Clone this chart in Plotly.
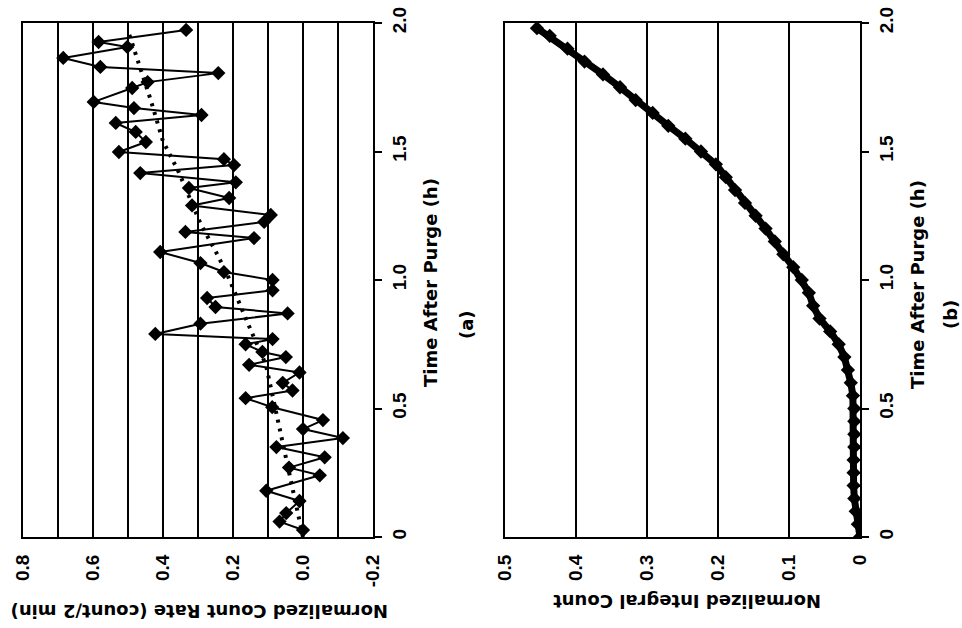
import plotly.graph_objects as go

# ---------------- Panel (a): normalized count rate ----------------
rate_time = [0.027, 0.06, 0.093, 0.14, 0.18, 0.24, 0.27, 0.31, 0.35, 0.385, 0.42, 0.455,
             0.505, 0.54, 0.57, 0.60, 0.64, 0.67, 0.70, 0.72, 0.75, 0.77, 0.79, 0.83,
             0.87, 0.895, 0.93, 0.96, 1.00, 1.031, 1.066, 1.109, 1.163, 1.187, 1.226,
             1.253, 1.29, 1.319, 1.358, 1.38, 1.416, 1.447, 1.47, 1.498, 1.537, 1.576,
             1.611, 1.642, 1.669, 1.693, 1.747, 1.77, 1.805, 1.829, 1.864, 1.907, 1.926,
             1.973]
rate_value = [0.0, 0.067, 0.048, 0.01, 0.105, -0.048, 0.04, -0.062, 0.076, -0.114, 0.0, -0.057,
              0.088, 0.164, 0.03, 0.058, 0.01, 0.154, 0.049, 0.116, 0.164, 0.087, 0.422, 0.293,
              0.044, 0.25, 0.274, 0.087, 0.087, 0.226, 0.293, 0.408, 0.14, 0.336, 0.111,
              0.092, 0.317, 0.211, 0.326, 0.192, 0.465, 0.197, 0.226, 0.526, 0.449, 0.478,
              0.535, 0.29, 0.483, 0.598, 0.488, 0.444, 0.242, 0.579, 0.685, 0.502, 0.584,
              0.334]

trend_time = [0.0, 0.5, 0.67, 0.82, 1.02, 1.10, 1.22, 1.42, 1.54, 1.70, 1.875, 1.97]
trend_value = [0.0, 0.08, 0.106, 0.154, 0.216, 0.245, 0.293, 0.355, 0.40, 0.435, 0.478, 0.50]

rate_ticks = [0.8, 0.7, 0.6, 0.5, 0.4, 0.3, 0.2, 0.1, 0.0, -0.1, -0.2]
rate_ticktext = ["0.8", "", "0.6", "", "0.4", "", "0.2", "", "0.0", "", "-0.2"]

# ---------------- Panel (b): normalized integral count ----------------
integ_time = [0.0, 0.05, 0.10, 0.15, 0.20, 0.25, 0.30, 0.35, 0.40, 0.45, 0.50, 0.55, 0.60,
              0.65, 0.70, 0.75, 0.80, 0.85, 0.90, 0.95, 1.00, 1.05, 1.10, 1.15, 1.20, 1.25,
              1.30, 1.35, 1.40, 1.45, 1.50, 1.55, 1.60, 1.65, 1.70, 1.75, 1.80, 1.85, 1.90,
              1.95, 1.98]
integ_value = [0.0, 0.003, 0.006, 0.008, 0.009, 0.009, 0.009, 0.008, 0.008, 0.008, 0.008,
               0.010, 0.013, 0.017, 0.022, 0.030, 0.042, 0.057, 0.066, 0.072, 0.082, 0.094,
               0.108, 0.120, 0.133, 0.147, 0.162, 0.176, 0.189, 0.203, 0.224, 0.246, 0.270,
               0.292, 0.316, 0.338, 0.362, 0.388, 0.412, 0.437, 0.455]

integ_ticks = [0.5, 0.4, 0.3, 0.2, 0.1, 0.0]
integ_ticktext = ["0.5", "0.4", "0.3", "0.2", "0.1", "0"]

time_ticks = [0, 0.5, 1.0, 1.5, 2.0]
time_ticktext = ["0", "0.5", "1.0", "1.5", "2.0"]

FONT = "Liberation Sans"
TITLE_FONT = "DejaVu Sans"

fig = go.Figure()

fig.add_trace(go.Scatter(
    x=trend_value, y=trend_time, xaxis="x", yaxis="y", mode="lines",
    line=dict(color="black", width=4, dash="3px,6px"), showlegend=False))
fig.add_trace(go.Scatter(
    x=rate_value, y=rate_time, xaxis="x", yaxis="y", mode="lines+markers",
    line=dict(color="black", width=2),
    marker=dict(symbol="diamond", size=11, color="black"), showlegend=False))

fig.add_trace(go.Scatter(
    x=integ_value, y=integ_time, xaxis="x2", yaxis="y2", mode="lines+markers",
    line=dict(color="black", width=7),
    marker=dict(symbol="diamond", size=11, color="black"), showlegend=False))

val_axis = dict(showline=True, mirror=True, linecolor="black", linewidth=2,
                showgrid=True, gridcolor="black", gridwidth=2, zeroline=False,
                ticks="", tickangle=-90, ticklabelstandoff=8, automargin=False,
                tickfont=dict(family=FONT, size=19, color="black", weight="bold"))
time_axis = dict(showline=True, mirror=True, linecolor="black", linewidth=2,
                 showgrid=False, zeroline=False, side="right", automargin=False,
                 ticks="outside", ticklen=7, tickwidth=2, tickcolor="black",
                 tickangle=-90, ticklabelstandoff=1,
                 tickvals=time_ticks, ticktext=time_ticktext, range=[0, 2.0],
                 tickfont=dict(family=FONT, size=19, color="black", weight="bold"))

fig.update_layout(
    width=962, height=628,
    margin=dict(l=0, r=0, t=0, b=0, pad=0),
    paper_bgcolor="white", plot_bgcolor="white",
    xaxis=dict(val_axis, domain=[23 / 962, 373 / 962], range=[0.8, -0.2],
               tickvals=rate_ticks, ticktext=rate_ticktext, anchor="y"),
    yaxis=dict(time_axis, domain=[1 - 537 / 628, 1 - 23 / 628], anchor="x"),
    xaxis2=dict(val_axis, domain=[505 / 962, 860 / 962], range=[0.5, 0.0],
                tickvals=integ_ticks, ticktext=integ_ticktext, anchor="y2"),
    yaxis2=dict(time_axis, domain=[1 - 537 / 628, 1 - 23 / 628], anchor="x2"),
)

title_font = dict(family=TITLE_FONT, size=18, color="black", weight="bold")
annots = [
    dict(text="Time After Purge (h)", x=430 / 962, y=1 - 283 / 628, textangle=-90),
    dict(text="(a)", x=466 / 962, y=1 - 325 / 628, textangle=-90),
    dict(text="Time After Purge (h)", x=917 / 962, y=1 - 285 / 628, textangle=-90),
    dict(text="(b)", x=950 / 962, y=1 - 315 / 628, textangle=-90),
    dict(text="Normalized Count Rate (count/2 min)", x=200 / 962, y=1 - 612 / 628, textangle=180),
    dict(text="Normalized Integral Count", x=687 / 962, y=1 - 602 / 628, textangle=180),
]
for a in annots:
    fig.add_annotation(xref="paper", yref="paper", showarrow=False,
                       xanchor="center", yanchor="middle", font=title_font, **a)

fig.write_html("out.html", config={"displayModeBar": False},
               post_script="document.body.style.margin='0';document.body.style.overflow='hidden';")
